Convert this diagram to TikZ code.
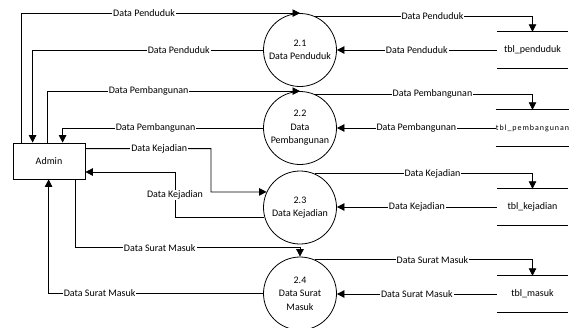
\documentclass[tikz,border=0pt]{standalone}
\usepackage{fontspec}
\setmainfont{Carlito}
\usetikzlibrary{arrows.meta}
\begin{document}
\begin{tikzpicture}[x=1pt,y=-1pt,
  every node/.style={font=\fontsize{10}{13.5}\selectfont},
  proc/.style={circle, draw, line width=0.8pt, minimum size=73pt, align=center, inner sep=0pt},
  entity/.style={rectangle, draw, line width=0.8pt, minimum width=72pt, minimum height=36pt},
  store/.style={minimum width=71pt, minimum height=36pt, inner sep=0pt},
  storeline/.style={line width=0.8pt},
  flow/.style={draw, line width=0.8pt, -{Triangle[length=7.5pt,width=7.5pt]}},
  lbl/.style={fill=white, inner sep=1pt},
]
\useasboundingbox (0,0) rectangle (572,327);

% external entity
\node[entity] (admin) at (49,161) {Admin};

% processes
\node[proc] (p1) at (300,50) {2.1\\Data Penduduk};
\node[proc] (p2) at (300,128) {2.2\\Data\\Pembangunan};
\node[proc] (p3) at (300,207.5) {2.3\\Data Kejadian};
\node[proc] (p4) at (300,293.5) {2.4\\Data Surat\\Masuk};

% data stores
\node[store] (s1) at (532.5,50) {tbl\_penduduk};
\node[store] (s2) at (532.5,128) {\fontsize{8}{10}\selectfont\addfontfeature{LetterSpace=12}tbl\_pembangunan};
\node[store] (s3) at (532.5,207) {tbl\_kejadian};
\node[store] (s4) at (532.5,294) {tbl\_masuk};
\foreach \s in {s1,s2,s3,s4}{
  \draw[storeline] (\s.north west) -- (\s.north east);
  \draw[storeline] (\s.south west) -- (\s.south east);
}

% bend points
\coordinate (k1) at (211,192);
\coordinate (k2) at (175,172);

% Admin <-> processes
\draw[flow] ([xshift=9pt]admin.north west) |- node[lbl,pos=0.72]{Data Penduduk} (p1.north);
\draw[flow] (p1.west) -| node[lbl,pos=0.183]{Data Penduduk} ([xshift=20pt]admin.north west);
\draw[flow] ([xshift=35pt]admin.north west) |- node[lbl,pos=0.70]{Data Pembangunan} (p2.north);
\draw[flow] (p2.west) -| node[lbl,pos=0.268]{Data Pembangunan} ([xshift=50pt]admin.north west);
\draw[flow] ([yshift=-6pt]admin.north east) -| node[lbl,pos=0.294]{Data Kejadian} (k1) -- (p3.155);
\draw[flow] (p3.195) -| node[lbl,pos=0.745]{Data Kejadian} (k2) -- (k2 -| admin.east);
\draw[flow] ([xshift=63pt]admin.south west) |- node[lbl,pos=0.6875]{Data Surat Masuk} ([yshift=9pt]p4.north) -- (p4.north);
\draw[flow] (p4.west) -| node[lbl,pos=0.381]{Data Surat Masuk} ([xshift=36pt]admin.south west);

% processes <-> data stores
\draw[flow] (p1.66) -| node[lbl,pos=0.27]{Data Penduduk} (s1.north);
\draw[flow] (s1.west) -- node[lbl,pos=0.5]{Data Penduduk} (p1.east);
\draw[flow] (p2.66) -| node[lbl,pos=0.27]{Data Pembangunan} (s2.north);
\draw[flow] (s2.west) -- node[lbl,pos=0.5]{Data Pembangunan} (p2.east);
\draw[flow] (p3.66) -| node[lbl,pos=0.27]{Data Kejadian} (s3.north);
\draw[flow] (s3.west) -- node[lbl,pos=0.5]{Data Kejadian} (s3.west -| p3.east);
\draw[flow] (p4.66) -| node[lbl,pos=0.27]{Data Surat Masuk} (s4.north);
\draw[flow] (s4.west) -- node[lbl,pos=0.5]{Data Surat Masuk} (s4.west -| p4.east);
\end{tikzpicture}
\end{document}
